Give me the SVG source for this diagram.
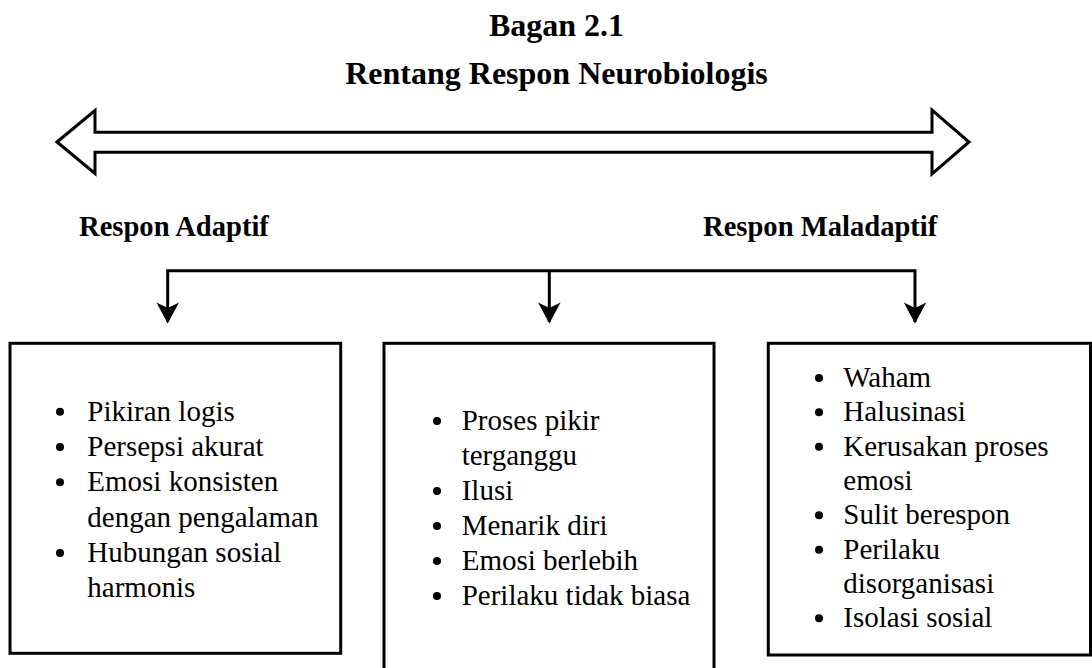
<svg xmlns="http://www.w3.org/2000/svg" width="1092" height="668" viewBox="0 0 1092 668">
<style>
text{font-family:"Liberation Serif","Times New Roman",serif;fill:#000}
.title{font-size:32px;font-weight:bold;text-anchor:middle}
.lbl{font-size:28.6px;font-weight:bold}
.item{font-size:29px}
.box{fill:#fff;stroke:#000;stroke-width:3}
.conn{fill:none;stroke:#000;stroke-width:3}
.dot{fill:#000}
</style>
<defs>
<marker id="ah" markerUnits="userSpaceOnUse" viewBox="-12 -22 24 24" refX="0" refY="0" markerWidth="24" markerHeight="24" orient="auto-start-reverse">
<path d="M0,0 L-11,-21 L0,-15 L11,-21 Z" fill="#000" transform="rotate(-90)"/>
</marker>
</defs>
<g id="title">
<text class="title" x="556.5" y="36">Bagan 2.1</text>
<text class="title" x="556.5" y="83.5">Rentang Respon Neurobiologis</text>
</g>
<g id="range-arrow">
<polygon points="57,142 95,110.5 95,132.3 932,132.3 932,110 969,142 932,174 932,152.3 95,152.3 95,173.5" fill="#fff" stroke="#000" stroke-width="3" stroke-linejoin="miter"/>
</g>
<g id="label-adaptif"><text class="lbl" x="79" y="236">Respon Adaptif</text></g>
<g id="label-maladaptif"><text class="lbl" x="703" y="236">Respon Maladaptif</text></g>
<g id="connectors">
<path class="conn" d="M167.7,322 V270.7 H915 V322"/>
<path class="conn" d="M549.3,270.7 V322"/>
<path d="M167.7,323.5 L156.5,302.5 L167.7,308 L179,302.5 Z" fill="#000"/>
<path d="M549.3,323.5 L538.1,302.5 L549.3,308 L560.6,302.5 Z" fill="#000"/>
<path d="M915,323.5 L903.8,302.5 L915,308 L926.3,302.5 Z" fill="#000"/>
</g>
<g id="box-adaptif">
<rect class="box" x="10" y="343.3" width="330.7" height="310"/>
<circle class="dot" cx="60" cy="411.7" r="4"/>
<circle class="dot" cx="60" cy="447" r="4"/>
<circle class="dot" cx="60" cy="482.3" r="4"/>
<circle class="dot" cx="60" cy="553" r="4"/>
<text class="item" x="87.3" y="420.7">Pikiran logis</text>
<text class="item" x="87.3" y="456">Persepsi akurat</text>
<text class="item" x="87.3" y="491.3">Emosi konsisten</text>
<text class="item" x="87.3" y="526.7">dengan pengalaman</text>
<text class="item" x="87.3" y="562">Hubungan sosial</text>
<text class="item" x="87.3" y="597">harmonis</text>
</g>
<g id="box-tengah">
<rect class="box" x="384" y="343.3" width="330" height="340"/>
<circle class="dot" cx="437" cy="421" r="4"/>
<circle class="dot" cx="437" cy="491" r="4"/>
<circle class="dot" cx="437" cy="526" r="4"/>
<circle class="dot" cx="437" cy="561" r="4"/>
<circle class="dot" cx="437" cy="596" r="4"/>
<text class="item" x="461.7" y="430">Proses pikir</text>
<text class="item" x="461.7" y="465">terganggu</text>
<text class="item" x="461.7" y="500">Ilusi</text>
<text class="item" x="461.7" y="535">Menarik diri</text>
<text class="item" x="461.7" y="570">Emosi berlebih</text>
<text class="item" x="461.7" y="605">Perilaku tidak biasa</text>
</g>
<g id="box-maladaptif">
<rect class="box" x="768.3" y="343.3" width="322.2" height="311.7"/>
<circle class="dot" cx="819" cy="378" r="4"/>
<circle class="dot" cx="819" cy="412.3" r="4"/>
<circle class="dot" cx="819" cy="446.7" r="4"/>
<circle class="dot" cx="819" cy="515.3" r="4"/>
<circle class="dot" cx="819" cy="549.7" r="4"/>
<circle class="dot" cx="819" cy="618.3" r="4"/>
<text class="item" x="843.3" y="387">Waham</text>
<text class="item" x="843.3" y="421.3">Halusinasi</text>
<text class="item" x="843.3" y="455.7">Kerusakan proses</text>
<text class="item" x="843.3" y="490">emosi</text>
<text class="item" x="843.3" y="524.3">Sulit berespon</text>
<text class="item" x="843.3" y="558.7">Perilaku</text>
<text class="item" x="843.3" y="593">disorganisasi</text>
<text class="item" x="843.3" y="627.3">Isolasi sosial</text>
</g>
</svg>
